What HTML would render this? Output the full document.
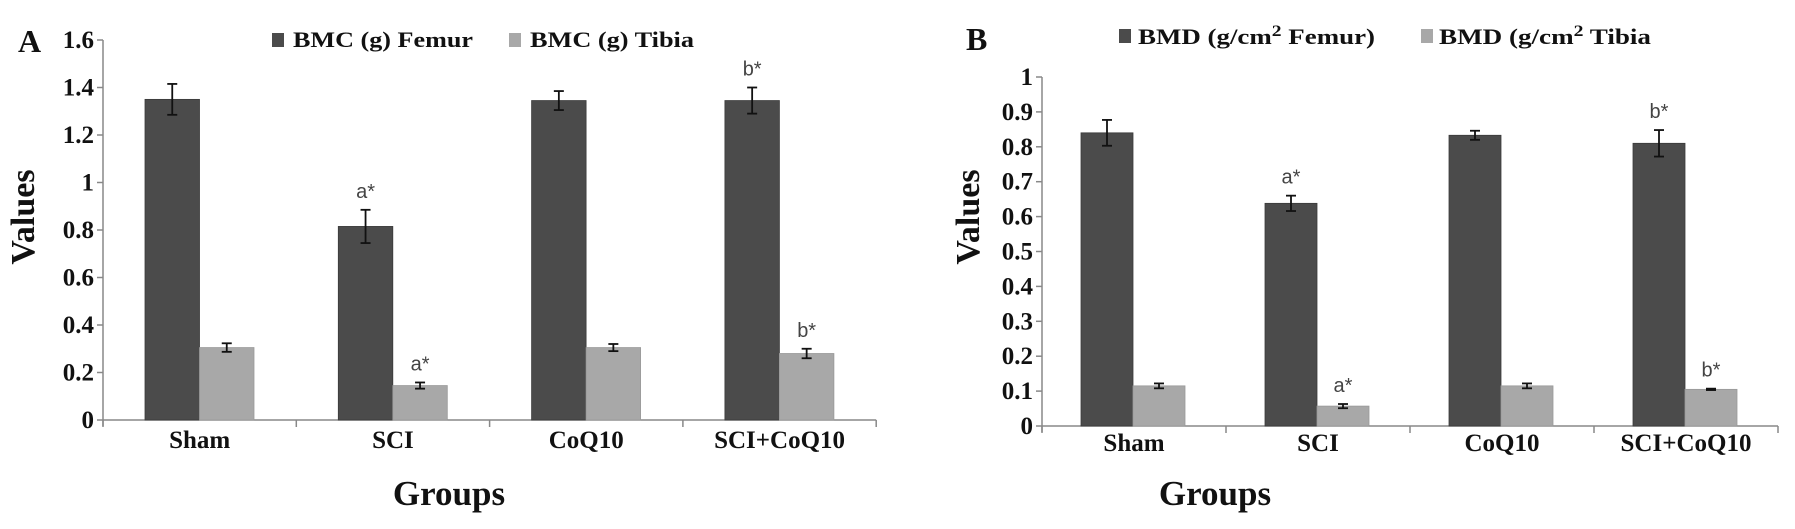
<!DOCTYPE html>
<html><head><meta charset="utf-8">
<style>
body{margin:0;background:#fff;}
svg{display:block;}
text{font-family:"Liberation Serif",serif;font-weight:bold;fill:#111;}
.ann{font-family:"Liberation Sans",sans-serif;font-weight:normal;fill:#444;font-size:20px;}
</style></head>
<body>
<svg id="chart" width="1795" height="529" viewBox="0 0 1795 529" xmlns="http://www.w3.org/2000/svg"></svg>
<script>
const categories = ["Sham","SCI","CoQ10","SCI+CoQ10"];
const bmcFemur = [1.35,0.815,1.345,1.345];
const bmcFemurErr = [0.065,0.07,0.04,0.055];
const bmcTibia = [0.305,0.145,0.305,0.28];
const bmcTibiaErr = [0.018,0.013,0.015,0.02];
const bmcFemurAnn = ["","a*","","b*"];
const bmcTibiaAnn = ["","a*","","b*"];
const bmcTicks = [0,0.2,0.4,0.6,0.8,1,1.2,1.4,1.6];
const bmdFemur = [0.84,0.638,0.833,0.81];
const bmdFemurErr = [0.037,0.022,0.013,0.038];
const bmdTibia = [0.115,0.057,0.115,0.105];
const bmdTibiaErr = [0.007,0.006,0.007,0.002];
const bmdFemurAnn = ["","a*","","b*"];
const bmdTibiaAnn = ["","a*","","b*"];
const bmdTicks = [0,0.1,0.2,0.3,0.4,0.5,0.6,0.7,0.8,0.9,1];

const NS="http://www.w3.org/2000/svg";
const svg=document.getElementById('chart');
function mk(tag,attrs,parent,txt){const e=document.createElementNS(NS,tag);for(const k in attrs)e.setAttribute(k,attrs[k]);if(txt!==undefined)e.textContent=txt;(parent||svg).appendChild(e);return e;}

function panel(p){
  const g=mk('g',{});
  
  
  const yS=v=>p.y0-v*p.unit;
  const xC=i=>p.x0+i*p.cw;
  const ya=mk('line',{x1:p.x0,y1:yS(p.ticks[p.ticks.length-1]),x2:p.x0,y2:p.y0+6,stroke:'#888','stroke-width':1.5},g);
  
  
  const xa=mk('line',{x1:p.x0,y1:p.y0,x2:xC(categories.length),y2:p.y0,stroke:'#888','stroke-width':1.5},g);
  
  
  p.ticks.forEach(t=>{
    mk('line',{x1:p.x0-6,y1:yS(t),x2:p.x0,y2:yS(t),stroke:'#888','stroke-width':1.5},g);
    const tl=mk('text',{x:p.x0-9,y:yS(t)+8,'text-anchor':'end','font-size':25},g,String(t));
    
    
  });
  for(let i=0;i<=categories.length;i++){
    mk('line',{x1:xC(i),y1:p.y0,x2:xC(i),y2:p.y0+7,stroke:'#888','stroke-width':1.5},g);
  }
  categories.forEach((c,i)=>{
    const cl=mk('text',{x:xC(i)+p.cw/2,y:p.catY,'text-anchor':'middle','font-size':25},g,c);
    
    
    const series=[[p.f,p.fe,'#4b4b4b',p.fa],[p.t,p.te,'#a8a8a8',p.ta]];
    series.forEach((s,k)=>{
      const v=s[0][i],e=s[1][i];
      const bx=xC(i)+p.off+k*p.bw;
      const r=mk('rect',{x:bx,y:yS(v),width:p.bw,height:p.y0-yS(v),fill:s[2],stroke:k?'#999':'#3a3a3a','stroke-width':0.8},g);
      
      
      const cx=bx+p.bw/2;
      mk('line',{x1:cx,y1:yS(v+e),x2:cx,y2:yS(v-e),stroke:'#111','stroke-width':1.8},g);
      mk('line',{x1:cx-5,y1:yS(v+e),x2:cx+5,y2:yS(v+e),stroke:'#111','stroke-width':1.8},g);
      mk('line',{x1:cx-5,y1:yS(v-e),x2:cx+5,y2:yS(v-e),stroke:'#111','stroke-width':1.8},g);
      if(s[3][i]){
        const a=mk('text',{x:cx,y:yS(v+e)-12,'text-anchor':'middle','class':'ann'},g,s[3][i]);
        
        
      }
    });
  });
  const yt=mk('text',{x:0,y:0,'text-anchor':'middle','font-size':34,transform:`translate(${p.ytX},${p.ytY}) rotate(-90)`},g,'Values');
  
  
  const xt=mk('text',{x:p.gX,y:505,'text-anchor':'middle','font-size':35},g,'Groups');
  
  
  const pl=mk('text',{x:p.lblX,y:p.lblY,'font-size':32},g,p.letter);
  
  
  p.leg.forEach(l=>{
    const sq=mk('rect',{x:l.sx,y:l.sy,width:l.sw,height:l.sh,fill:l.c},g);
    
    
    const lt=mk('text',{x:l.tx,y:l.ty,'font-size':22,textLength:l.tw,lengthAdjust:'spacingAndGlyphs'},g);
    
    
    if(l.sup){
      mk('tspan',{},lt,l.a);
      mk('tspan',{dy:-8,'font-size':16},lt,'2');
      mk('tspan',{dy:8},lt,l.b);
    } else lt.textContent=l.a;
  });
}

panel({name:'panel-a-bmc',letter:'A',lblX:18,lblY:52,x0:103,cw:193.3,y0:420,unit:237.5,ticks:bmcTicks,
  f:bmcFemur,fe:bmcFemurErr,t:bmcTibia,te:bmcTibiaErr,fa:bmcFemurAnn,ta:bmcTibiaAnn,off:42,bw:54.5,
  catY:448,ytX:34,ytY:217,gX:449,
  leg:[{sx:272,sy:33,sw:12,sh:14,c:'#4b4b4b',tx:293,ty:47,tw:180,a:'BMC (g) Femur'},
       {sx:509,sy:33,sw:12,sh:14,c:'#a8a8a8',tx:530,ty:47,tw:164,a:'BMC (g) Tibia'}]});
panel({name:'panel-b-bmd',letter:'B',lblX:966,lblY:50,x0:1042,cw:184,y0:426,unit:349,ticks:bmdTicks,
  f:bmdFemur,fe:bmdFemurErr,t:bmdTibia,te:bmdTibiaErr,fa:bmdFemurAnn,ta:bmdTibiaAnn,off:39,bw:52,
  catY:451,ytX:979,ytY:217,gX:1215,
  leg:[{sx:1119,sy:29,sw:12,sh:14,c:'#4b4b4b',tx:1138,ty:44,tw:237,a:'BMD (g/cm',b:' Femur)',sup:true},
       {sx:1421,sy:29,sw:12,sh:14,c:'#a8a8a8',tx:1439,ty:44,tw:212,a:'BMD (g/cm',b:' Tibia',sup:true}]});
</script>
</body></html>
